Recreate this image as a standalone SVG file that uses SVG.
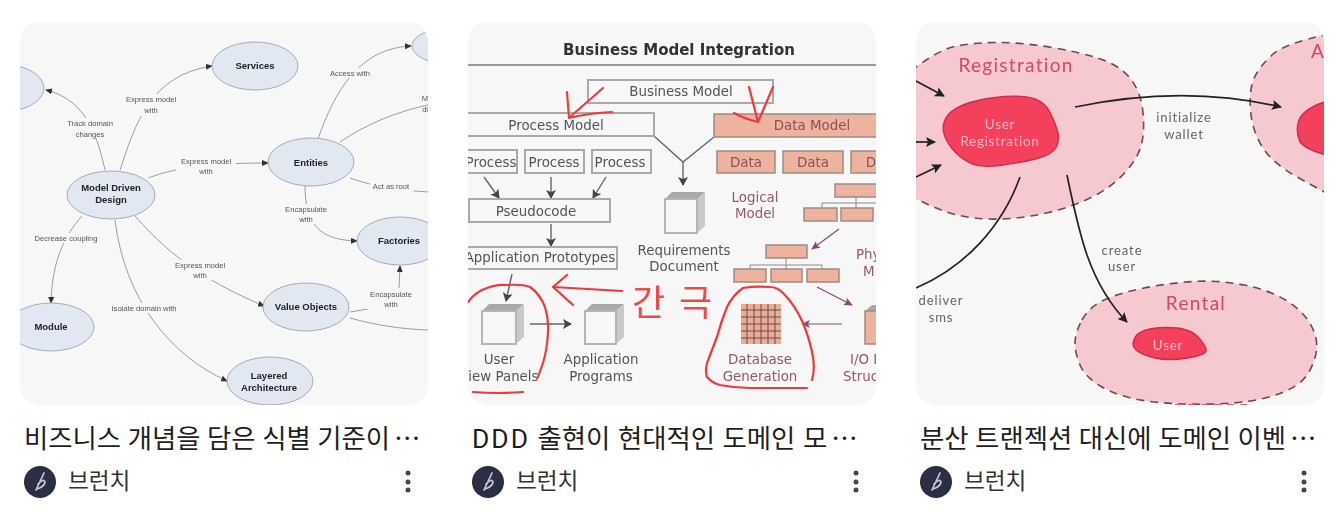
<svg xmlns="http://www.w3.org/2000/svg" width="1342" height="522" viewBox="0 0 1342 522">
<style>
text{font-family:"Liberation Sans","Noto Sans CJK KR",sans-serif}
.card{fill:#f7f7f7}
.title{font-family:Roboto,"Noto Sans CJK KR",sans-serif;font-size:26.4px;fill:#1f1f1f}
.ell{font-family:"Noto Sans CJK KR",sans-serif}
.src{font-family:Roboto,"Noto Sans CJK KR",sans-serif;font-size:22.6px;fill:#333}
.dot{fill:#474747}
.av{fill:#2c2e45}
.avl{fill:none;stroke:#c9c9d2;stroke-width:1.7;stroke-linecap:round}
.el{fill:#e2e8f1;stroke:#a6abb1;stroke-width:1}
.en{font-size:9.5px;font-weight:bold;fill:#222;text-anchor:middle}
.el-t{font-size:7.6px;fill:#555;text-anchor:middle}
.e1{fill:none;stroke:#999c9e;stroke-width:1}
.box{fill:#f7f7f7;stroke:#a9a9a9;stroke-width:2}
.pbox{fill:#ecb39e;stroke:#a08a84;stroke-width:1.5}
.t2{font-family:"DejaVu Sans",sans-serif;font-size:13.4px;fill:#555;text-anchor:middle}
.t2p{font-family:"DejaVu Sans",sans-serif;font-size:13.4px;fill:#8f5a6c;text-anchor:middle}
.ln{fill:none;stroke:#666;stroke-width:1.4}
.lp{fill:none;stroke:#8a4a72;stroke-width:1.2}
.cf{fill:#f7f7f7;stroke:#b5b5b5;stroke-width:2}
.ct{fill:#a9a9a9}
.cs{fill:#c9c9c9}
.red{fill:none;stroke:#f0383c;stroke-width:2.2;stroke-linecap:round;stroke-linejoin:round}
.reg{fill:#f6c9d0;stroke:#6b4a50;stroke-width:1.6;stroke-dasharray:8 6}
.blob{fill:#f23f5d;stroke:#cf2c49;stroke-width:1.4}
.rt{font-family:Lato,sans-serif;font-size:19px;letter-spacing:1.3px;fill:#d2485d;text-anchor:middle}
.ut{font-family:Lato,sans-serif;font-size:13.5px;letter-spacing:.7px;fill:#fab9c6;text-anchor:middle}
.gt{font-family:Lato,sans-serif;font-size:13px;letter-spacing:.9px;fill:#666;text-anchor:middle}
.bk{fill:none;stroke:#222;stroke-width:1.7}
</style>
<defs>
<clipPath id="c1"><rect x="20" y="22" width="408" height="383" rx="20"/></clipPath>
<clipPath id="c2"><rect x="468" y="22" width="408" height="383" rx="20"/></clipPath>
<clipPath id="c3"><rect x="916" y="22" width="408" height="383" rx="20"/></clipPath>
<filter id="b" x="-5%" y="-5%" width="110%" height="110%"><feGaussianBlur stdDeviation="0.7"/></filter>
<marker id="a1" markerWidth="7" markerHeight="6" refX="6" refY="3" orient="auto" markerUnits="userSpaceOnUse"><path d="M0 0L7 3L0 6Z" fill="#333"/></marker>
<marker id="a2" markerWidth="9" markerHeight="10" refX="8" refY="5" orient="auto" markerUnits="userSpaceOnUse"><path d="M0 0L9 5L0 10L2 5Z" fill="#444"/></marker>
<marker id="a3" markerWidth="9" markerHeight="8" refX="8" refY="4" orient="auto" markerUnits="userSpaceOnUse"><path d="M0 0L9 4L0 8L2 4Z" fill="#8a4a72"/></marker>
<marker id="a4" markerWidth="10" markerHeight="10" refX="9" refY="5" orient="auto" markerUnits="userSpaceOnUse"><path d="M0 0L10 5L0 10L2 5Z" fill="#222"/></marker>
</defs>
<rect width="1342" height="522" fill="#fff"/>

<g id="card-1">
<rect class="card" x="20" y="22" width="408" height="383" rx="20"/>
<g clip-path="url(#c1)"><g filter="url(#b)">
<g id="connectors-1">
<path class="e1" marker-end="url(#a1)" d="M105 170C98 140 88 100 46 90"/>
<path class="e1" marker-end="url(#a1)" d="M120 170C135 125 150 75 212 66"/>
<path class="e1" marker-end="url(#a1)" d="M148 178C165 172 190 163 268 163"/>
<path class="e1" marker-end="url(#a1)" d="M305 186C305 225 320 240 357 241"/>
<path class="e1" marker-end="url(#a1)" d="M318 139C335 90 360 48 411 46"/>
<path class="e1" d="M340 142C365 125 395 112 428 105"/>
<path class="e1" d="M350 178C375 187 400 190 428 192"/>
<path class="e1" marker-end="url(#a1)" d="M82 216C65 235 52 260 51 303"/>
<path class="e1" marker-end="url(#a1)" d="M135 216C175 262 215 285 264 306"/>
<path class="e1" marker-end="url(#a1)" d="M115 220C125 300 170 355 227 381"/>
<path class="e1" marker-end="url(#a1)" d="M399 288L400 266"/>
<path class="e1" d="M350 312L368 309"/>
<path class="e1" d="M350 318C375 325 400 329 428 330"/>
</g>
<g fill="#f7f7f7">
<rect x="64" y="118" width="54" height="20"/><rect x="122" y="94" width="60" height="22"/><rect x="176" y="156" width="60" height="20"/>
<rect x="282" y="204" width="50" height="20"/><rect x="328" y="68" width="46" height="10"/><rect x="370" y="181" width="44" height="10"/>
<rect x="30" y="233" width="74" height="10"/><rect x="170" y="260" width="60" height="20"/><rect x="106" y="303" width="76" height="10"/><rect x="366" y="289" width="50" height="20"/>
</g>
<g id="n-tracker"><ellipse class="el" cx="1" cy="88" rx="43" ry="24"/></g>
<g id="n-services"><ellipse class="el" cx="255" cy="66" rx="43" ry="24"/><text class="en" x="255" y="69">Services</text></g>
<g id="n-mdd"><ellipse class="el" cx="111" cy="195" rx="44" ry="24"/><text class="en" x="111" y="191">Model Driven</text><text class="en" x="111" y="203">Design</text></g>
<g id="n-entities"><ellipse class="el" cx="311" cy="162" rx="43" ry="24"/><text class="en" x="311" y="166">Entities</text></g>
<g id="n-factories"><ellipse class="el" cx="400" cy="241" rx="43" ry="24"/><text class="en" x="399" y="244">Factories</text></g>
<g id="n-value"><ellipse class="el" cx="306" cy="307" rx="43" ry="24"/><text class="en" x="306" y="310">Value Objects</text></g>
<g id="n-module"><ellipse class="el" cx="51" cy="327" rx="43" ry="24"/><text class="en" x="51" y="330">Module</text></g>
<g id="n-layered"><ellipse class="el" cx="270" cy="381" rx="43" ry="24"/><text class="en" x="269" y="379">Layered</text><text class="en" x="269" y="391">Architecture</text></g>
<g id="n-topright"><ellipse class="el" cx="455" cy="46" rx="43" ry="19"/></g>
<g>
<text class="el-t" x="90" y="126">Track domain</text><text class="el-t" x="90" y="137">changes</text>
<text class="el-t" x="151" y="102">Express model</text><text class="el-t" x="151" y="113">with</text>
<text class="el-t" x="206" y="164">Express model</text><text class="el-t" x="206" y="174">with</text>
<text class="el-t" x="306" y="212">Encapsulate</text><text class="el-t" x="306" y="222">with</text>
<text class="el-t" x="350" y="76">Access with</text>
<text class="el-t" x="427" y="101">Ma</text><text class="el-t" x="427" y="112">dis</text>
<text class="el-t" x="391" y="189">Act as root</text>
<text class="el-t" x="66" y="241">Decrease coupling</text>
<text class="el-t" x="200" y="268">Express model</text><text class="el-t" x="200" y="278">with</text>
<text class="el-t" x="144" y="311">Isolate domain with</text>
<text class="el-t" x="391" y="297">Encapsulate</text><text class="el-t" x="391" y="307">with</text>
</g>
</g></g>
<text class="title" x="24" y="448">비즈니스 개념을 담은 식별 기준이<tspan class="ell" dx="4">…</tspan></text>
<circle class="av" cx="40" cy="482" r="16"/><path class="avl" d="M44 473L36 490M38 484Q44 478 45 482Q44 487 37 489"/>
<text class="src" x="68" y="489">브런치</text>
<circle class="dot" cx="408" cy="473" r="2.5"/><circle class="dot" cx="408" cy="482" r="2.5"/><circle class="dot" cx="408" cy="490" r="2.5"/>
</g>

<g id="card-2">
<rect class="card" x="468" y="22" width="408" height="383" rx="20"/>
<g clip-path="url(#c2)"><g filter="url(#b)">
<text x="679" y="55" text-anchor="middle" style="font-family:'DejaVu Sans',sans-serif;font-size:15px;font-weight:bold;fill:#333">Business Model Integration</text>
<path d="M460 65H880" stroke="#999" stroke-width="2"/>
<g id="connectors-2">
<path class="ln" d="M654 136L683 162L714 137"/>
<path class="ln" marker-end="url(#a2)" d="M683 162V185"/>
<path class="ln" marker-end="url(#a2)" d="M484 177L499 198"/>
<path class="ln" marker-end="url(#a2)" d="M551 177V198"/>
<path class="ln" marker-end="url(#a2)" d="M606 177L593 198"/>
<path class="ln" marker-end="url(#a2)" d="M551 224V246"/>
<path class="ln" marker-end="url(#a2)" d="M512 274L506 301"/>
<path class="ln" marker-end="url(#a2)" d="M530 324H571"/>
<path class="lp" marker-end="url(#a3)" d="M839 229L812 249"/>
<path class="lp" marker-end="url(#a3)" d="M817 287L852 305"/>
<path class="lp" marker-end="url(#a3)" d="M842 324H802"/>
<path class="ln" d="M822 208V203H880M856 197V208M750 269V265H822V269M786 258V269" style="stroke:#888;stroke-width:1"/>
</g>
<g id="n-bm"><rect class="box" x="588" y="80" width="185" height="23"/><text class="t2" x="681" y="96">Business Model</text></g>
<g id="n-pm"><rect class="box" x="450" y="113" width="204" height="23"/><text class="t2" x="556" y="130">Process Model</text></g>
<g id="n-dm"><rect class="pbox" x="714" y="114" width="180" height="23"/><text class="t2p" x="812" y="130" style="fill:#8f4f5c">Data Model</text></g>
<g id="n-p1"><rect class="box" x="450" y="150" width="67" height="23"/><text class="t2" x="491" y="167">Process</text></g>
<g id="n-p2"><rect class="box" x="525" y="150" width="59" height="23"/><text class="t2" x="554" y="167">Process</text></g>
<g id="n-p3"><rect class="box" x="592" y="150" width="59" height="23"/><text class="t2" x="620" y="167">Process</text></g>
<g id="n-d1"><rect class="pbox" x="717" y="151" width="58" height="22"/><text class="t2p" x="746" y="167" style="fill:#8f4f5c">Data</text></g>
<g id="n-d2"><rect class="pbox" x="783" y="151" width="60" height="22"/><text class="t2p" x="813" y="167" style="fill:#8f4f5c">Data</text></g>
<g id="n-d3"><rect class="pbox" x="851" y="151" width="60" height="22"/><text class="t2p" x="871" y="167" style="fill:#8f4f5c">D</text></g>
<g id="n-pseudo"><rect class="box" x="469" y="199" width="141" height="23"/><text class="t2" x="536" y="216">Pseudocode</text></g>
<g id="n-proto"><rect class="box" x="450" y="247" width="167" height="22"/><text class="t2" x="540" y="262">Application Prototypes</text></g>
<g id="n-req">
<path class="ct" d="M665 199L672 192H705L697 199Z"/><path class="cs" d="M697 199L705 192V226L697 233Z"/><rect class="cf" x="665" y="199" width="32" height="34"/>
<text class="t2" x="684" y="255">Requirements</text><text class="t2" x="684" y="271">Document</text></g>
<g id="n-ui">
<path class="ct" d="M482 311L489 304H524L516 311Z"/><path class="cs" d="M516 311L524 304V337L516 344Z"/><rect class="cf" x="482" y="311" width="34" height="33"/>
<text class="t2" x="499" y="364">User</text><text class="t2" x="499" y="381">View Panels</text></g>
<g id="n-app">
<path class="ct" d="M585 311L592 304H624L616 311Z"/><path class="cs" d="M616 311L624 304V337L616 344Z"/><rect class="cf" x="585" y="311" width="31" height="33"/>
<text class="t2" x="601" y="364">Application</text><text class="t2" x="601" y="381">Programs</text></g>
<g id="n-db">
<rect x="741" y="304" width="40" height="40" fill="#e9ad98"/>
<path d="M741 310H781M741 317H781M741 324H781M741 331H781M741 338H781M747 304V344M754 304V344M761 304V344M768 304V344M775 304V344" stroke="#6f4a48" stroke-width="1"/>
<text class="t2p" x="760" y="364">Database</text><text class="t2p" x="760" y="381">Generation</text></g>
<g id="n-io">
<path class="ct" d="M865 311L872 305H880V311Z"/><rect class="pbox" x="865" y="311" width="20" height="33"/>
<text class="t2p" x="850" y="364" style="text-anchor:start">I/O I</text><text class="t2p" x="843" y="381" style="text-anchor:start">Struc</text></g>
<g id="n-logical">
<text class="t2p" x="755" y="202">Logical</text><text class="t2p" x="755" y="218">Model</text>
<rect class="pbox" x="835" y="184" width="50" height="13"/><rect class="pbox" x="804" y="208" width="33" height="13"/><rect class="pbox" x="841" y="208" width="32" height="13"/></g>
<g id="n-physical">
<text class="t2p" x="856" y="259" style="text-anchor:start">Phy</text><text class="t2p" x="863" y="276" style="text-anchor:start">M</text>
<rect class="pbox" x="766" y="245" width="41" height="13"/><rect class="pbox" x="734" y="269" width="32" height="13"/><rect class="pbox" x="771" y="269" width="31" height="13"/><rect class="pbox" x="807" y="269" width="32" height="13"/></g>
</g>
<g id="scribbles" filter="url(#b)">
<path class="red" d="M603 88L570 117M567 92L569 118Q590 113 612 112"/>
<path class="red" d="M749 87L758 122L773 87M734 113Q745 119 758 122"/>
<path class="red" d="M553 287L622 291M567 275L553 287L573 305"/>
<path class="red" d="M468 302Q474 294 482 290Q495 284 507 285Q522 284 530 287Q540 294 545 307Q549 320 548 333Q547 350 543 363L538 377M473 392Q498 394 523 392"/>
<path class="red" d="M812 380Q815 370 813 357Q810 340 803 323Q795 305 783 293Q777 287 770 287Q755 286 743 288Q733 295 727 307Q721 322 717 337L707 363Q705 372 707 377Q712 383 720 385Q735 388 750 388L807 388"/>
<text x="632" y="316" style="font-family:'Noto Sans CJK KR',sans-serif;font-size:36px;letter-spacing:14px;fill:#f0484c">간극</text>
</g></g>
<text class="title" x="472" y="448" style="word-spacing:1px"><tspan letter-spacing="2">DDD</tspan> 출현이 현대적인 도메인 모<tspan class="ell" dx="4">…</tspan></text>
<circle class="av" cx="488" cy="482" r="16"/><path class="avl" d="M492 473L484 490M486 484Q492 478 493 482Q492 487 485 489"/>
<text class="src" x="516" y="489">브런치</text>
<circle class="dot" cx="856" cy="473" r="2.5"/><circle class="dot" cx="856" cy="482" r="2.5"/><circle class="dot" cx="856" cy="490" r="2.5"/>
</g>

<g id="card-3">
<rect class="card" x="916" y="22" width="408" height="383" rx="20"/>
<g clip-path="url(#c3)"><g filter="url(#b)">
<g id="n-registration">
<path class="reg" d="M900 80Q935 50 957 46Q979 42 1002 42.500Q1025 43 1052 47.500Q1079 52 1099 58.500Q1119 65 1129.500 77.500Q1140 90 1142.500 108.500Q1145 127 1142 142Q1139 157 1125.500 172Q1112 187 1092 197Q1072 207 1048.500 212.500Q1025 218 1002 219Q979 220 957 215Q935 210 900 190Z"/>
<text class="rt" x="1016" y="72">Registration</text>
<path class="blob" d="M948 115Q955 107 970 102.500Q985 98 1005 96.500Q1025 95 1035 99Q1045 103 1050 112.500Q1055 122 1057.500 131Q1060 140 1056 147.500Q1052 155 1035.500 159Q1019 163 999 165.500Q979 168 969 162.500Q959 157 952 148.500Q945 140 943.500 131.500Q942 123 948 115Z"/>
<text class="ut" x="1000" y="129">User</text><text class="ut" x="1000" y="146">Registration</text>
</g>
<g id="n-account">
<path class="reg" d="M1330 34Q1285 43 1272 55Q1259 67 1254 78.500Q1249 90 1250.500 110Q1252 130 1262 146.500Q1272 163 1298 177.500Q1324 192 1340 200L1340 34Z"/>
<text class="rt" x="1318" y="58">A</text>
<path class="blob" d="M1340 98Q1305 105 1299 120Q1295 130 1300 142Q1308 152 1340 158Z"/>
</g>
<g id="n-rental">
<path class="reg" d="M1082 320Q1089 307 1104 300Q1119 293 1144 288Q1169 283 1194 281.500Q1219 280 1244 285Q1269 290 1285.500 300Q1302 310 1310 323.500Q1318 337 1316.500 350Q1315 363 1307 375Q1299 387 1275.500 395Q1252 403 1213.500 404Q1175 405 1147 401Q1119 397 1102 387Q1085 377 1080 365Q1075 353 1075 343Q1075 333 1082 320Z"/>
<text class="rt" x="1196" y="310">Rental</text>
<path class="blob" d="M1136 336Q1142 328 1165 327.500Q1189 327 1198 337Q1207 347 1206 351Q1205 355 1187 358Q1169 361 1155 358Q1142 355 1136 350Q1130 345 1136 336Z"/>
<text class="ut" x="1168" y="350">User</text>
<path d="M1175 405H1250" fill="none" stroke="#ea5a72" stroke-width="2" stroke-dasharray="7 6"/>
</g>
<g id="connectors-3">
<path class="bk" marker-end="url(#a4)" d="M916 81L944 96"/>
<path class="bk" marker-end="url(#a4)" d="M916 142H935"/>
<path class="bk" marker-end="url(#a4)" d="M916 177L941 165"/>
<path class="bk" marker-end="url(#a4)" d="M1075 107C1142 93 1209 90 1281 107"/>
<path class="bk" d="M1020 177C1002 227 965 267 916 288"/>
<path class="bk" marker-end="url(#a4)" d="M1067 175C1079 233 1089 283 1127 322"/>
</g>
<text class="gt" x="1184" y="122">initialize</text><text class="gt" x="1184" y="139">wallet</text>
<text class="gt" x="941" y="305">deliver</text><text class="gt" x="941" y="322">sms</text>
<text class="gt" x="1122" y="255">create</text><text class="gt" x="1122" y="271">user</text>
</g></g>
<text class="title" x="920" y="448">분산 트랜젝션 대신에 도메인 이벤<tspan class="ell" dx="4">…</tspan></text>
<circle class="av" cx="936" cy="482" r="16"/><path class="avl" d="M940 473L932 490M934 484Q940 478 941 482Q940 487 933 489"/>
<text class="src" x="964" y="489">브런치</text>
<circle class="dot" cx="1304" cy="473" r="2.500"/><circle class="dot" cx="1304" cy="482" r="2.500"/><circle class="dot" cx="1304" cy="490" r="2.500"/>
</g>
</svg>
